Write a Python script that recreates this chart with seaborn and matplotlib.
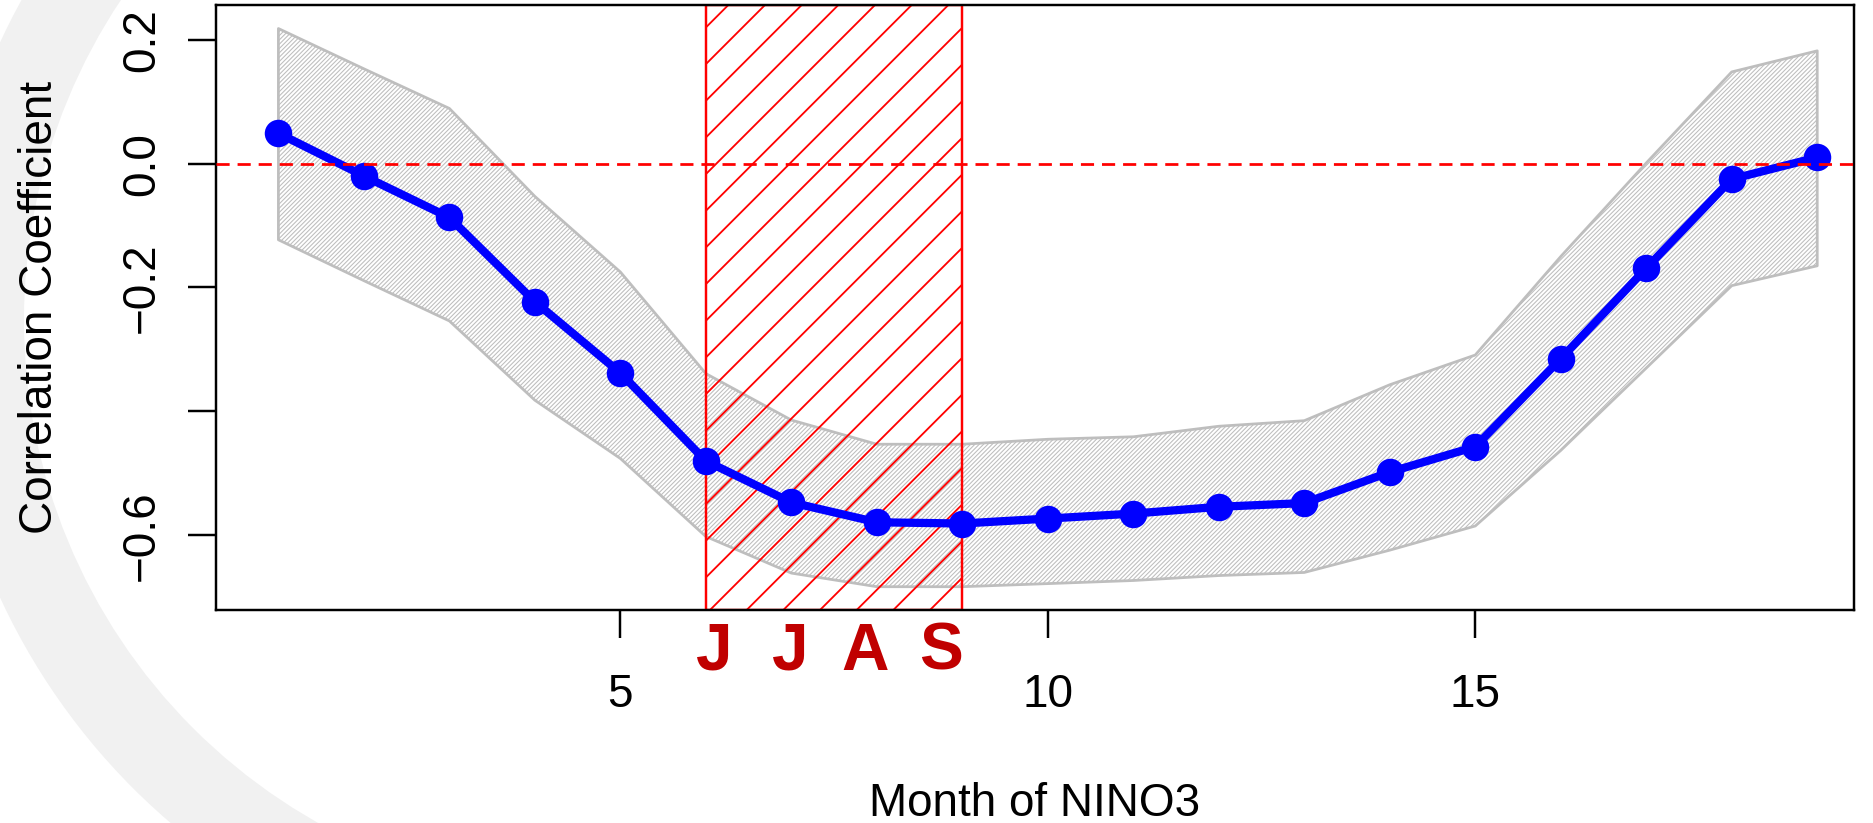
import numpy as np
import pandas as pd
import matplotlib
matplotlib.use("Agg")
import matplotlib.pyplot as plt
from matplotlib.patches import Wedge, Rectangle
from matplotlib.transforms import blended_transform_factory
import seaborn as sns

# ---- data -------------------------------------------------------------
months = list(range(1, 20))
corr = [0.049, -0.020, -0.087, -0.223, -0.338, -0.480, -0.547, -0.579, -0.581,
        -0.573, -0.565, -0.554, -0.548, -0.498, -0.457, -0.315, -0.169, -0.025, 0.010]
upper = [0.218, 0.153, 0.089, -0.053, -0.175, -0.339, -0.414, -0.453, -0.453,
         -0.445, -0.441, -0.424, -0.415, -0.357, -0.309, -0.150, 0.001, 0.148, 0.182]
lower = [-0.123, -0.189, -0.254, -0.382, -0.476, -0.602, -0.661, -0.683, -0.683,
         -0.678, -0.673, -0.665, -0.660, -0.624, -0.585, -0.463, -0.330, -0.197, -0.165]
season_start, season_end = 6, 9
season_letters = ["J", "J", "A", "S"]
xticks = [5, 10, 15]
yticks = [0.2, 0.0, -0.2, -0.4, -0.6]
ytick_labels = ["0.2", "0.0", "\u22120.2", "", "\u22120.6"]

df = pd.DataFrame({"month": months, "corr": corr, "upper": upper, "lower": lower})

# ---- style --------------------------------------------------------------
sns.set_theme(style="white")
fam = ["Liberation Sans", "DejaVu Sans"]
plt.rcParams["font.family"] = fam
plt.rcParams["lines.scale_dashes"] = False
plt.rcParams["axes.unicode_minus"] = True
for key in ("text.color", "axes.labelcolor", "xtick.color", "ytick.color"):
    plt.rcParams[key] = "black"

DPI = 220
fig = plt.figure(figsize=(1873 / DPI, 823 / DPI), dpi=DPI, facecolor="white")
ax = fig.add_axes([216 / 1873, 1 - 610 / 823, (1854 - 216) / 1873, (610 - 5) / 823])
ax.set_facecolor("white")

# faint decorative arc behind the plot (pixel coordinates)
arc = Wedge((601, 823 - 320), 662, 90, 270, width=85, transform=None,
            facecolor="#f1f1f1", edgecolor="none", zorder=-10)
fig.patches.append(arc)

# confidence band
plt.rcParams["hatch.linewidth"] = 0.35
band = ax.fill_between(df["month"], df["lower"], df["upper"], facecolor="none",
                       edgecolor="#bebebe", hatch="/" * 17, linewidth=0.9, zorder=1)
if hasattr(band, "set_hatch_linewidth"):
    band.set_hatch_linewidth(0.35)

# highlighted season
plt.rcParams["hatch.linewidth"] = 0.6
tr = blended_transform_factory(ax.transData, ax.transAxes)
rect = Rectangle((season_start, 0), season_end - season_start, 1, transform=tr,
                 facecolor="none", edgecolor="#ff0000", hatch="//", linewidth=0.8,
                 zorder=2)
ax.add_patch(rect)
if hasattr(rect, "set_hatch_linewidth"):
    rect.set_hatch_linewidth(0.6)

# correlation curve
sns.lineplot(data=df, x="month", y="corr", ax=ax, color="#0000ff", linewidth=2.7,
             marker="o", markersize=9, markeredgewidth=0, zorder=3)

# zero reference
ax.axhline(0, color="#ff0000", linewidth=0.9, linestyle=(0, (4.3, 2.6)), zorder=4)

# ---- axes -------------------------------------------------------------
ax.set_xlim(0.27, 19.43)
ax.set_ylim(-0.7206, 0.256)
ax.set_xticks(xticks)
ax.set_xticklabels([str(t) for t in xticks], fontsize=15)
ax.set_yticks(yticks)
ax.set_yticklabels(ytick_labels, fontsize=15, rotation=90, va="center")
ax.tick_params(axis="both", direction="out", length=9.2, width=0.8, color="black",
               left=True, bottom=True)
ax.tick_params(axis="x", pad=11.5)
ax.tick_params(axis="y", pad=7.8)
for s in ax.spines.values():
    s.set_color("black")
    s.set_linewidth(0.8)

ax.set_xlabel("Month of NINO3", fontsize=15, labelpad=0)
ax.xaxis.set_label_coords(0.5, (610 - 816) / 605, transform=ax.transAxes)
ax.xaxis.label.set_va("baseline")
ax.set_ylabel("Correlation Coefficient", fontsize=15)
ax.yaxis.set_label_coords((40 - 216) / 1638, 0.5, transform=ax.transAxes)
ax.yaxis.label.set_va("center")

# season letters under the highlighted months
letter_x = np.linspace(6.1, 8.75, len(season_letters))
for lx, letter in zip(letter_x, season_letters):
    ax.text(lx, (610 - 653) / 605, letter, transform=tr, ha="center", va="center",
            fontsize=21.5, fontweight="bold", color="#c00000", clip_on=False)

fig.savefig("out.png", dpi=DPI, facecolor="white")
